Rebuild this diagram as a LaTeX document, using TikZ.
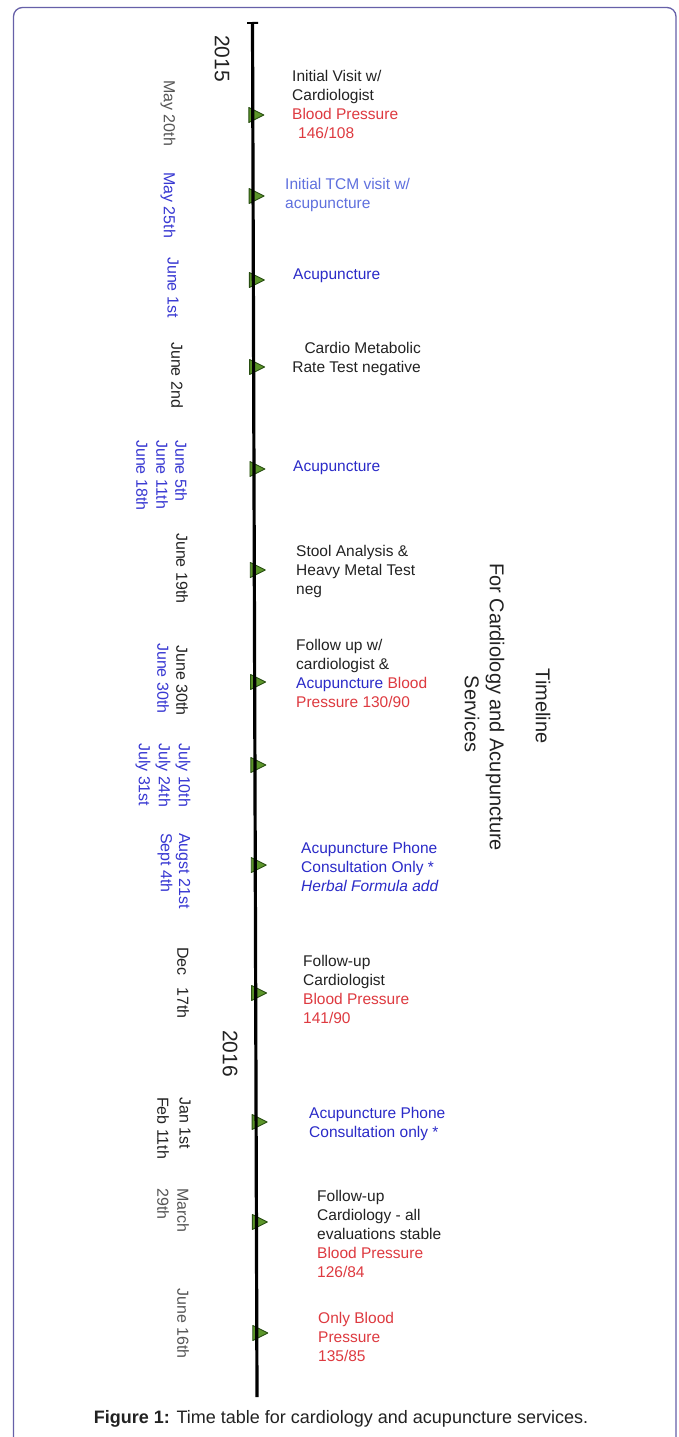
\documentclass[tikz,border=0pt]{standalone}
\usepackage{fontspec}
\setmainfont{Liberation Sans}
\usetikzlibrary{arrows.meta}
\definecolor{txtblack}{RGB}{34,34,34}
\definecolor{bpred}{RGB}{222,58,64}
\definecolor{acublue}{RGB}{42,42,200}
\definecolor{tcmblue}{RGB}{95,112,222}
\definecolor{dateblue}{RGB}{55,55,210}
\definecolor{dategray}{RGB}{85,85,85}
\definecolor{framecol}{RGB}{102,96,168}
\definecolor{mkfill}{RGB}{92,150,42}
\definecolor{mkdraw}{RGB}{40,78,18}
\begin{document}
\begin{tikzpicture}[x=1pt,y=-1pt,
  txt/.style={font=\fontsize{15.5}{19}\selectfont, align=left, inner sep=0pt, anchor=north west, text=txtblack},
  datelbl/.style={font=\fontsize{16}{19}\selectfont, rotate=-90, anchor=west, inner sep=0pt},
  yearlbl/.style={font=\fontsize{21}{24}\selectfont, rotate=-90, anchor=west, inner sep=0pt, text=txtblack},
  titlelbl/.style={font=\fontsize{20}{23}\selectfont, rotate=-90, anchor=center, inner sep=0pt, text=txtblack},
  mk/.style={fill=mkfill, draw=mkdraw, line width=0.9pt, line join=round},
  axisline/.style={line width=3.2pt, black}]
\useasboundingbox (0,0) rectangle (679,1437);
\fill[white] (0,0) rectangle (679,1437);
% frame
\draw[framecol, line width=1.3pt, rounded corners=9pt] (13.5,7.5) rectangle (676,1460);
% markers
\foreach \yy in {115,196,280,367,469,570,682,765,865,993,1122,1222,1333}{
  \pgfmathsetmacro\ax{252.5+(\yy-22)*4.5/1375}
  \filldraw[mk] (\ax-4,\yy-7.5) -- (\ax+11,\yy) -- (\ax-4,\yy+7.5) -- cycle;
}
% axis
\coordinate (axtop) at (252.5,22);
\coordinate (axbot) at (257,1397);
\draw[axisline, {Bar[width=11pt,line width=1.8pt]}-] (axtop) -- (axbot);
% years
\node[yearlbl] (y2015) at (222,35) {2015};
\node[yearlbl] (y2016) at (230,1030) {2016};
% dates
\node[datelbl, text=dategray] (d1) at (168,80) {May 20th};
\node[datelbl, text=dateblue] (d2) at (168,172) {May 25th};
\node[datelbl, text=dateblue] (d3) at (173,257) {June 1st};
\node[datelbl, text=txtblack] (d4) at (177,342) {June 2nd};
\node[datelbl, text=dateblue] (d5a) at (181,440) {June 5th};
\node[datelbl, text=dateblue] (d5b) at (162,440) {June 11th};
\node[datelbl, text=dateblue] (d5c) at (142,440) {June 18th};
\node[datelbl, text=txtblack] (d6) at (182,533) {June 19th};
\node[datelbl, text=txtblack] (d7a) at (182,645) {June 30th};
\node[datelbl, text=dateblue] (d7b) at (163,643) {June 30th};
\node[datelbl, text=dateblue] (d8a) at (183,743) {July 10th};
\node[datelbl, text=dateblue] (d8b) at (163,743) {July 24th};
\node[datelbl, text=dateblue] (d8c) at (143,743) {July 31st};
\node[datelbl, text=dateblue] (d9a) at (183,833) {Augst 21st};
\node[datelbl, text=dateblue] (d9b) at (165,833) {Sept 4th};
\node[datelbl, text=txtblack] (d10) at (183,947) {Dec\hspace{12pt}17th};
\node[datelbl, text=txtblack] (d11a) at (185,1097) {Jan 1st};
\node[datelbl, text=txtblack] (d11b) at (163,1097) {Feb 11th};
\node[datelbl, text=dategray] (d12a) at (183,1188) {March};
\node[datelbl, text=dategray] (d12b) at (163,1188) {29th};
\node[datelbl, text=dategray] (d13) at (183,1288) {June 16th};
% events
\node[txt] (e1) at (292,70) {Initial Visit w/\\Cardiologist\\\textcolor{bpred}{Blood Pressure}\\\hspace*{6pt}\textcolor{bpred}{146/108}};
\node[txt, text=tcmblue] (e2) at (285,178) {Initial TCM visit w/\\acupuncture};
\node[txt, text=acublue] (e3) at (293,269) {Acupuncture};
\node[txt, align=right, anchor=north east] (e4) at (421,342) {Cardio Metabolic\\Rate Test negative};
\node[txt, text=acublue] (e5) at (293,461) {Acupuncture};
\node[txt] (e6) at (296,545) {Stool Analysis \&\\Heavy Metal Test\\neg};
\node[txt] (e7) at (296,639) {Follow up w/\\cardiologist \&\\\textcolor{acublue}{Acupuncture} \textcolor{bpred}{Blood}\\\textcolor{bpred}{Pressure 130/90}};
\node[txt, text=acublue] (e8) at (301,842) {Acupuncture Phone\\Consultation Only *\\\textit{Herbal Formula add}};
\node[txt] (e9) at (303,955) {Follow-up\\Cardiologist\\\textcolor{bpred}{Blood Pressure}\\\textcolor{bpred}{141/90}};
\node[txt, text=acublue] (e10) at (309,1107) {Acupuncture Phone\\Consultation only *};
\node[txt] (e11) at (317,1190) {Follow-up\\Cardiology - all\\evaluations stable\\\textcolor{bpred}{Blood Pressure}\\\textcolor{bpred}{126/84}};
\node[txt, text=bpred] (e12) at (318,1312) {Only Blood\\Pressure\\135/85};
% title
\node[titlelbl] (t1) at (543,706) {Timeline};
\node[titlelbl] (t2) at (495,707) {For Cardiology and Acupuncture};
\node[titlelbl] (t3) at (472,714) {Services};
% caption
\node[font=\fontsize{18}{21}\selectfont, inner sep=0pt, text=txtblack] (cap) at (341,1419) {\textbf{Figure 1:} Time table for cardiology and acupuncture services.};
\end{tikzpicture}
\end{document}
